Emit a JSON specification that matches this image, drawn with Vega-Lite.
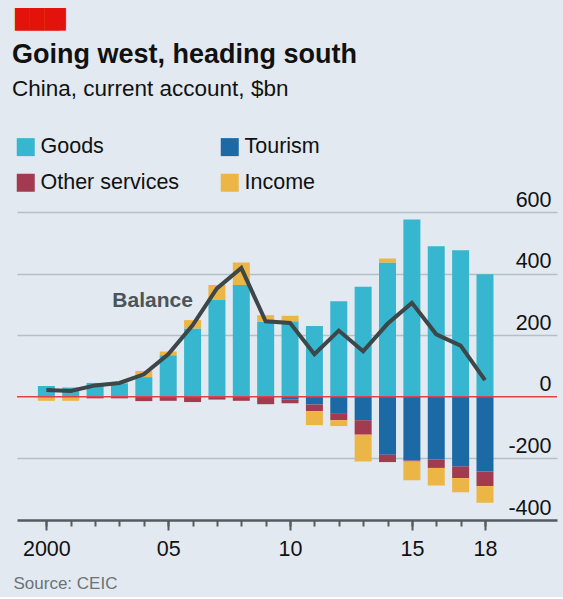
{
  "$schema": "https://vega.github.io/schema/vega-lite/v6.json",
  "background": "#e2e9f0",
  "padding": {"left": 12, "top": 10, "right": 6, "bottom": 6},
  "title": {"text": "███▌", "font": "DejaVu Sans", "fontSize": 19, "color": "#e3120b", "anchor": "start", "offset": 11, "dx": 3},
  "config": {"view": {"stroke": null}, "font": "Liberation Sans", "axis": {"labelOverlap": false}},
  "datasets": {
    "cn": [
      {"year": 2000, "Goods": 35, "Tourism": 0, "Other services": -2, "Income": -11, "Balance": 22},
      {"year": 2001, "Goods": 30, "Tourism": 0, "Other services": -2, "Income": -11, "Balance": 19},
      {"year": 2002, "Goods": 45, "Tourism": 0, "Other services": -5, "Income": 0, "Balance": 37},
      {"year": 2003, "Goods": 44, "Tourism": 0, "Other services": -5, "Income": 3, "Balance": 45},
      {"year": 2004, "Goods": 64, "Tourism": 0, "Other services": -14, "Income": 20, "Balance": 73},
      {"year": 2005, "Goods": 135, "Tourism": 0, "Other services": -13, "Income": 12, "Balance": 138},
      {"year": 2006, "Goods": 222, "Tourism": 0, "Other services": -17, "Income": 27, "Balance": 232},
      {"year": 2007, "Goods": 316, "Tourism": 0, "Other services": -9, "Income": 47, "Balance": 352},
      {"year": 2008, "Goods": 363, "Tourism": 0, "Other services": -13, "Income": 73, "Balance": 418},
      {"year": 2009, "Goods": 243, "Tourism": -4, "Other services": -20, "Income": 22, "Balance": 245},
      {"year": 2010, "Goods": 245, "Tourism": -9, "Other services": -12, "Income": 18, "Balance": 240},
      {"year": 2011, "Goods": 230, "Tourism": -25, "Other services": -22, "Income": -45, "Balance": 138},
      {"year": 2012, "Goods": 310, "Tourism": -53, "Other services": -23, "Income": -19, "Balance": 215},
      {"year": 2013, "Goods": 357, "Tourism": -76, "Other services": -47, "Income": -87, "Balance": 148},
      {"year": 2014, "Goods": 436, "Tourism": -188, "Other services": -24, "Income": 13, "Balance": 237},
      {"year": 2015, "Goods": 576, "Tourism": -207, "Other services": -3, "Income": -61, "Balance": 305},
      {"year": 2016, "Goods": 489, "Tourism": -203, "Other services": -28, "Income": -57, "Balance": 203},
      {"year": 2017, "Goods": 476, "Tourism": -226, "Other services": -38, "Income": -46, "Balance": 166},
      {"year": 2018, "Goods": 398, "Tourism": -242, "Other services": -48, "Income": -54, "Balance": 54}
    ]
  },
  "vconcat": [
    {
      "width": 540,
      "height": 308,
      "title": {
        "text": "Going west, heading south",
        "subtitle": "China, current account, $bn",
        "anchor": "start",
        "frame": "group",
        "font": "Liberation Sans",
        "fontSize": 27,
        "fontWeight": "bold",
        "color": "#111111",
        "subtitleFont": "Liberation Sans",
        "subtitleFontSize": 22.5,
        "subtitleColor": "#111111",
        "subtitlePadding": 9,
        "offset": 88,
        "dx": -5
      },
      "data": {"name": "cn"},
      "resolve": {"axis": {"x": "independent"}},
      "layer": [
        {
          "transform": [
            {"fold": ["Goods", "Tourism", "Other services", "Income"], "as": ["component", "value"]},
            {"calculate": "indexof(['Goods','Tourism','Other services','Income'], datum.component)", "as": "k"}
          ],
          "mark": {"type": "bar", "width": 17, "orient": "vertical"},
          "encoding": {
            "x": {
              "field": "year",
              "type": "quantitative",
              "scale": {"domain": [1999, 2020.75], "nice": false, "zero": false},
              "axis": {
                "orient": "bottom",
                "values": [2000, 2001, 2002, 2003, 2004, 2005, 2006, 2007, 2008, 2009, 2010, 2011, 2012, 2013, 2014, 2015, 2016, 2017, 2018],
                "labels": false,
                "tickSize": 6,
                "tickWidth": 2,
                "tickColor": "#555b60",
                "domainColor": "#555b60",
                "domainWidth": 2.5,
                "grid": false,
                "title": "Source: CEIC",
                "titleX": -4,
                "titleY": 68,
                "titleAlign": "left",
                "titleBaseline": "alphabetic",
                "titleFontSize": 17,
                "titleFontWeight": "normal",
                "titleColor": "#6b7378"
              }
            },
            "y": {
              "field": "value",
              "type": "quantitative",
              "stack": "zero",
              "scale": {"domain": [-400, 600], "nice": false},
              "axis": {
                "orient": "right",
                "values": [-400, -200, 0, 200, 400, 600],
                "domain": false,
                "ticks": false,
                "tickSize": 0,
                "labelAlign": "right",
                "labelPadding": -6,
                "labelBaseline": "alphabetic",
                "labelOffset": -6,
                "labelFontSize": 21.5,
                "labelColor": "#111111",
                "labelExpr": "datum.value + ''",
                "title": null,
                "grid": true,
                "gridColor": {"condition": {"test": "datum.value == 0 || datum.value == -400", "value": "transparent"}, "value": "#b4bfc7"},
                "gridWidth": 1.5
              }
            },
            "color": {
              "field": "component",
              "type": "nominal",
              "scale": {"domain": ["Goods", "Tourism", "Other services", "Income"], "range": ["#37b6cf", "#1b6aa5", "#a23a50", "#ecb646"]},
              "legend": {
                "orient": "none",
                "direction": "horizontal",
                "legendX": -2,
                "legendY": -76,
                "columns": 2,
                "columnPadding": 39,
                "rowPadding": 13,
                "symbolType": "square",
                "symbolSize": 324,
                "symbolStrokeWidth": 0,
                "labelFontSize": 21.5,
                "labelColor": "#111111",
                "labelOffset": 4,
                "title": null
              }
            },
            "order": {"field": "k", "type": "quantitative"}
          }
        },
        {
          "data": {"values": [{"ref": 0}]},
          "mark": {"type": "rule", "color": "#e0424b", "strokeWidth": 1.5},
          "encoding": {"y": {"field": "ref", "type": "quantitative"}}
        },
        {
          "mark": {"type": "line", "color": "#3d4649", "strokeWidth": 4},
          "encoding": {
            "x": {
              "field": "year",
              "type": "quantitative",
              "axis": {
                "orient": "bottom",
                "values": [2000, 2005, 2010, 2015, 2018],
                "labelExpr": "datum.value == 2000 ? '2000' : substring(datum.value + '', 2, 4)",
                "domain": false,
                "tickSize": 10,
                "tickWidth": 2,
                "tickColor": "#555b60",
                "grid": false,
                "labelFlush": false,
                "labelOverlap": false,
                "labelFontSize": 21.5,
                "labelColor": "#111111",
                "labelBaseline": "alphabetic",
                "labelPadding": 25,
                "title": null
              }
            },
            "y": {"field": "Balance", "type": "quantitative"}
          }
        },
        {
          "data": {"values": [{"label": "Balance"}]},
          "mark": {"type": "text", "fontSize": 21, "fontWeight": "bold", "color": "#4b5458", "align": "center", "baseline": "alphabetic"},
          "encoding": {
            "text": {"field": "label", "type": "nominal"},
            "x": {"datum": 2004.36, "axis": null},
            "y": {"datum": 292}
          }
        }
      ]
    }
  ]
}
